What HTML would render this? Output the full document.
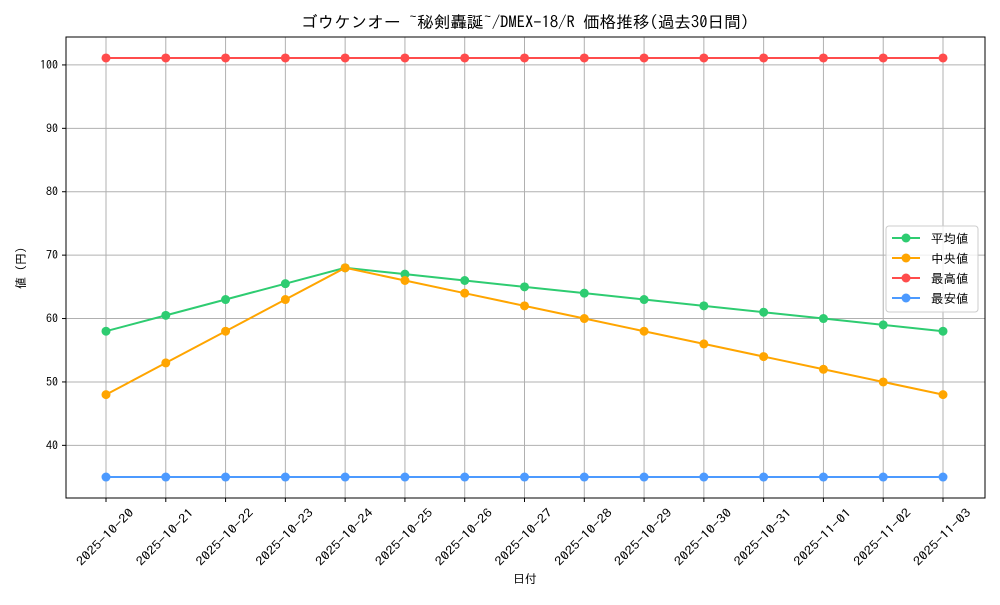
<!DOCTYPE html>
<html><head><meta charset="utf-8"><style>
body{margin:0;background:#fff;}
svg text{font-family:"IPAGothic","Liberation Sans",sans-serif;fill:#000;}
</style></head><body>
<svg id="chart" width="1000" height="600" xmlns="http://www.w3.org/2000/svg">
<rect width="1000" height="600" fill="#fff"/>
<text x="525" y="28" text-anchor="middle" font-size="16.5" textLength="448" lengthAdjust="spacingAndGlyphs">ゴウケンオー ~秘剣轟誕~/DMEX-18/R 価格推移(過去30日間)</text>
<text x="525" y="583" text-anchor="middle" font-size="12">日付</text>
<text transform="translate(25,268) rotate(-90)" text-anchor="middle" font-size="12">値 (円)</text>
<g id="grid"></g><g id="series"></g><g id="axes"></g>
</svg>
<script>
const dates=["2025-10-20","2025-10-21","2025-10-22","2025-10-23","2025-10-24","2025-10-25","2025-10-26","2025-10-27","2025-10-28","2025-10-29","2025-10-30","2025-10-31","2025-11-01","2025-11-02","2025-11-03"];
const avgVals=[58,60.5,63,65.5,68,67,66,65,64,63,62,61,60,59,58];
const medVals=[48,53,58,63,68,66,64,62,60,58,56,54,52,50,48];
const maxVals=[101.1,101.1,101.1,101.1,101.1,101.1,101.1,101.1,101.1,101.1,101.1,101.1,101.1,101.1,101.1];
const minVals=[35,35,35,35,35,35,35,35,35,35,35,35,35,35,35];
const yTicks=[40,50,60,70,80,90,100];
const seriesNames=["平均値","中央値","最高値","最安値"];
const NS="http://www.w3.org/2000/svg";
const L=66,R=985,T=37,B=498;
const all=[...avgVals,...medVals,...maxVals,...minVals];
const lo=Math.min(...all),hi=Math.max(...all),pad=(hi-lo)*0.05;
const y0=lo-pad,y1=hi+pad;
const xs=i=>106+i*(943-106)/(dates.length-1);
const ys=v=>B-(v-y0)/(y1-y0)*(B-T);
function mk(tag,attrs,parent){const e=document.createElementNS(NS,tag);for(const k in attrs)e.setAttribute(k,attrs[k]);parent.appendChild(e);return e;}
const grid=document.getElementById('grid'),axes=document.getElementById('axes'),ser=document.getElementById('series');
dates.forEach((d,i)=>{const x=xs(i);
 const g=mk('line',{x1:x,x2:x,y1:T,y2:B,stroke:'#b0b0b0','stroke-width':1},grid);
 
 mk('line',{x1:x,x2:x,y1:B,y2:B+4,stroke:'#000'},axes);
 const t=mk('text',{transform:`translate(${x+2},${B+42}) rotate(-45)`,'text-anchor':'middle','font-size':12,textLength:75,lengthAdjust:'spacingAndGlyphs'},axes);
 t.textContent=d;
});
yTicks.forEach(v=>{const y=ys(v);
 const g=mk('line',{x1:L,x2:R,y1:y,y2:y,stroke:'#b0b0b0','stroke-width':1},grid);
 
 mk('line',{x1:L-4,x2:L,y1:y,y2:y,stroke:'#000'},axes);
 const t=mk('text',{x:L-8,y:y+4,'text-anchor':'end','font-size':12},axes);
 t.textContent=v;
});
const fr=mk('rect',{x:L,y:T,width:R-L,height:B-T,fill:'none',stroke:'#000','stroke-width':1},axes);

const series=[[avgVals,'#2ecc71'],[medVals,'#ffa500'],[maxVals,'#ff4c4c'],[minVals,'#4c9aff']];
series.forEach(([vals,c],si)=>{
 const p=mk('polyline',{points:vals.map((v,i)=>xs(i)+','+ys(v)).join(' '),fill:'none',stroke:c,'stroke-width':2},ser);
 
 vals.forEach((v,i)=>{const m=mk('circle',{cx:xs(i),cy:ys(v),r:4.5,fill:c},ser);
  });
});
const lg=mk('g',{},axes);

mk('rect',{x:886,y:226,width:92,height:86,rx:3,fill:'#fff','fill-opacity':0.8,stroke:'#ccc'},lg);
series.forEach(([v,c],i)=>{const y=238+i*20;
 const e=mk('g',{},lg);
 mk('line',{x1:892,x2:920,y1:y,y2:y,stroke:c,'stroke-width':2},e);
 mk('circle',{cx:906,cy:y,r:4.5,fill:c},e);
 const t=mk('text',{x:931,y:y+5,'font-size':12.5},e);t.textContent=seriesNames[i];
});
</script>
</body></html>
